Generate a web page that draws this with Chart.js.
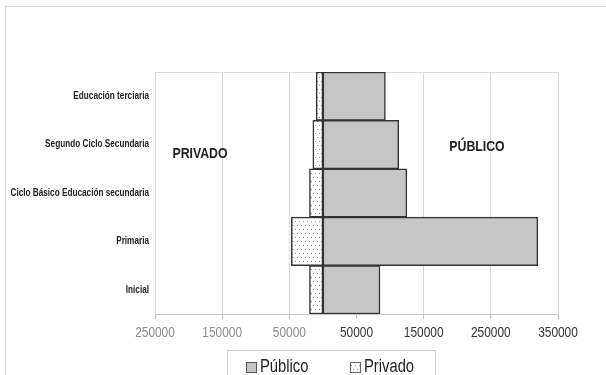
<!DOCTYPE html>
<html>
<head>
<meta charset="utf-8">
<script src="https://cdn.jsdelivr.net/npm/chart.js@4.4.0/dist/chart.umd.min.js"></script>
<style>
  html, body { margin: 0; padding: 0; background: #ffffff; }
  #wrap { position: relative; width: 606px; height: 375px; }
</style>
</head>
<body>
<div id="wrap"><canvas id="c" width="606" height="375"></canvas></div>
<script>
// Matrícula por nivel educativo, sector público y privado
const categories = [
  'Educación terciaria',
  'Segundo Ciclo Secundaria',
  'Ciclo Básico Educación secundaria',
  'Primaria',
  'Inicial'
];
const publico = [93000, 113000, 125000, 320000, 85000];
const privado = [10000, 15000, 20000, 47000, 20000];
const tickValues = [-250000, -150000, -50000, 50000, 150000, 250000, 350000];
const seriesNames = ['Público', 'Privado'];
const sideLabels = ['PRIVADO', 'PÚBLICO'];

const FONT = '"Liberation Sans", Arial, sans-serif';
const SQUEEZE = 0.82; // horizontal compression for a narrow typeface look

// dotted fill for the private sector bars
function dotPattern() {
  const p = document.createElement('canvas');
  p.width = 8; p.height = 8;
  const g = p.getContext('2d');
  g.fillStyle = '#ffffff';
  g.fillRect(0, 0, 8, 8);
  g.fillStyle = '#9a9a9a';
  [[1, 1], [5, 1], [3, 5], [7, 5]].forEach(([x, y]) => g.fillRect(x, y, 1, 1));
  return g.createPattern(p, 'repeat');
}
const dots = dotPattern();

const PUB_FILL = '#c6c6c6';
const EDGE = '#333333';

// draws text compressed horizontally around its anchor point
function narrowText(ctx, text, x, y, font, align, color) {
  ctx.save();
  ctx.font = font;
  ctx.fillStyle = color;
  ctx.textAlign = align;
  ctx.textBaseline = 'middle';
  ctx.translate(x, y);
  ctx.scale(SQUEEZE, 1);
  ctx.fillText(text, 0, 0);
  ctx.restore();
}

const framePlugin = {
  id: 'frame',
  beforeDraw(chart) {
    const ctx = chart.ctx;
    ctx.save();
    ctx.strokeStyle = '#d6d6d6';
    ctx.lineWidth = 1;
    ctx.strokeRect(5.5, 6.5, 800, 600);
    ctx.restore();
  },
  beforeDatasetsDraw(chart) {
    const a = chart.chartArea;
    const ctx = chart.ctx;
    ctx.save();
    ctx.strokeStyle = '#d9d9d9';
    ctx.lineWidth = 1;
    ctx.beginPath();
    ctx.moveTo(a.left, Math.round(a.top) + 0.5);
    ctx.lineTo(a.right, Math.round(a.top) + 0.5);
    ctx.stroke();
    ctx.restore();
  },
  afterDraw(chart) {
    const ctx = chart.ctx;
    const xs = chart.scales.x;
    const ys = chart.scales.y;

    // category labels
    chart.data.labels.forEach((lab, i) => {
      narrowText(ctx, lab, ys.right - 6, ys.getPixelForValue(i),
        'bold 10px ' + FONT, 'right', '#222222');
    });
    // value axis labels
    const labY = xs.top + 19;
    xs.ticks.forEach(t => {
      narrowText(ctx, String(Math.abs(t.value)), xs.getPixelForValue(t.value), labY,
        '14.5px ' + FONT, 'center', t.value < 0 ? '#8a8a8a' : '#333333');
    });

    // side captions
    narrowText(ctx, sideLabels[0], 200, 154, 'bold 15px ' + FONT, 'center', '#222222');
    narrowText(ctx, sideLabels[1], 477, 147, 'bold 15px ' + FONT, 'center', '#222222');

    // legend box
    ctx.save();
    ctx.strokeStyle = '#d0d0d0';
    ctx.lineWidth = 1;
    ctx.strokeRect(227.5, 350.5, 208, 40);
    const ds = chart.data.datasets;
    const items = [
      { x: 246, fill: ds[0].backgroundColor, edge: '#555555', text: ds[0].label },
      { x: 350, fill: dots, edge: '#666666', text: ds[1].label }
    ];
    items.forEach(it => {
      ctx.fillStyle = it.fill;
      ctx.fillRect(it.x, 362, 11, 11);
      ctx.strokeStyle = it.edge;
      ctx.strokeRect(it.x + 0.5, 362.5, 10, 10);
      narrowText(ctx, it.text, it.x + 14, 367, '18px ' + FONT, 'left', '#222222');
    });
    ctx.restore();
  }
};

new Chart(document.getElementById('c'), {
  type: 'bar',
  data: {
    labels: categories,
    datasets: [
      {
        label: seriesNames[0],
        data: publico,
        backgroundColor: PUB_FILL,
        borderColor: EDGE,
        borderWidth: 1.5,
        borderSkipped: false,
        barPercentage: 1,
        categoryPercentage: 1
      },
      {
        label: seriesNames[1],
        data: privado.map(v => -v),
        backgroundColor: dots,
        borderColor: EDGE,
        borderWidth: 1.5,
        borderSkipped: false,
        barPercentage: 1,
        categoryPercentage: 1
      }
    ]
  },
  options: {
    indexAxis: 'y',
    responsive: false,
    animation: false,
    devicePixelRatio: 1,
    layout: { padding: { top: 72, right: 48, bottom: 0, left: 0 } },
    plugins: {
      legend: { display: false },
      tooltip: { enabled: false },
      title: { display: false }
    },
    scales: {
      x: {
        stacked: true,
        min: -250000,
        max: 350000,
        afterBuildTicks(scale) {
          scale.ticks = tickValues.map(v => ({ value: v }));
        },
        afterFit(scale) { scale.height = 61; },
        grid: {
          color: '#d9d9d9',
          lineWidth: 1,
          drawTicks: true,
          tickLength: 5,
          tickColor: '#bdbdbd'
        },
        border: { display: true, color: '#c8c8c8' },
        ticks: { display: false, autoSkip: false, maxRotation: 0 }
      },
      y: {
        stacked: true,
        afterFit(scale) { scale.width = 155; },
        grid: { display: false, drawTicks: false },
        border: { display: false },
        ticks: { display: false, autoSkip: false }
      }
    }
  },
  plugins: [framePlugin]
});
</script>
</body>
</html>
